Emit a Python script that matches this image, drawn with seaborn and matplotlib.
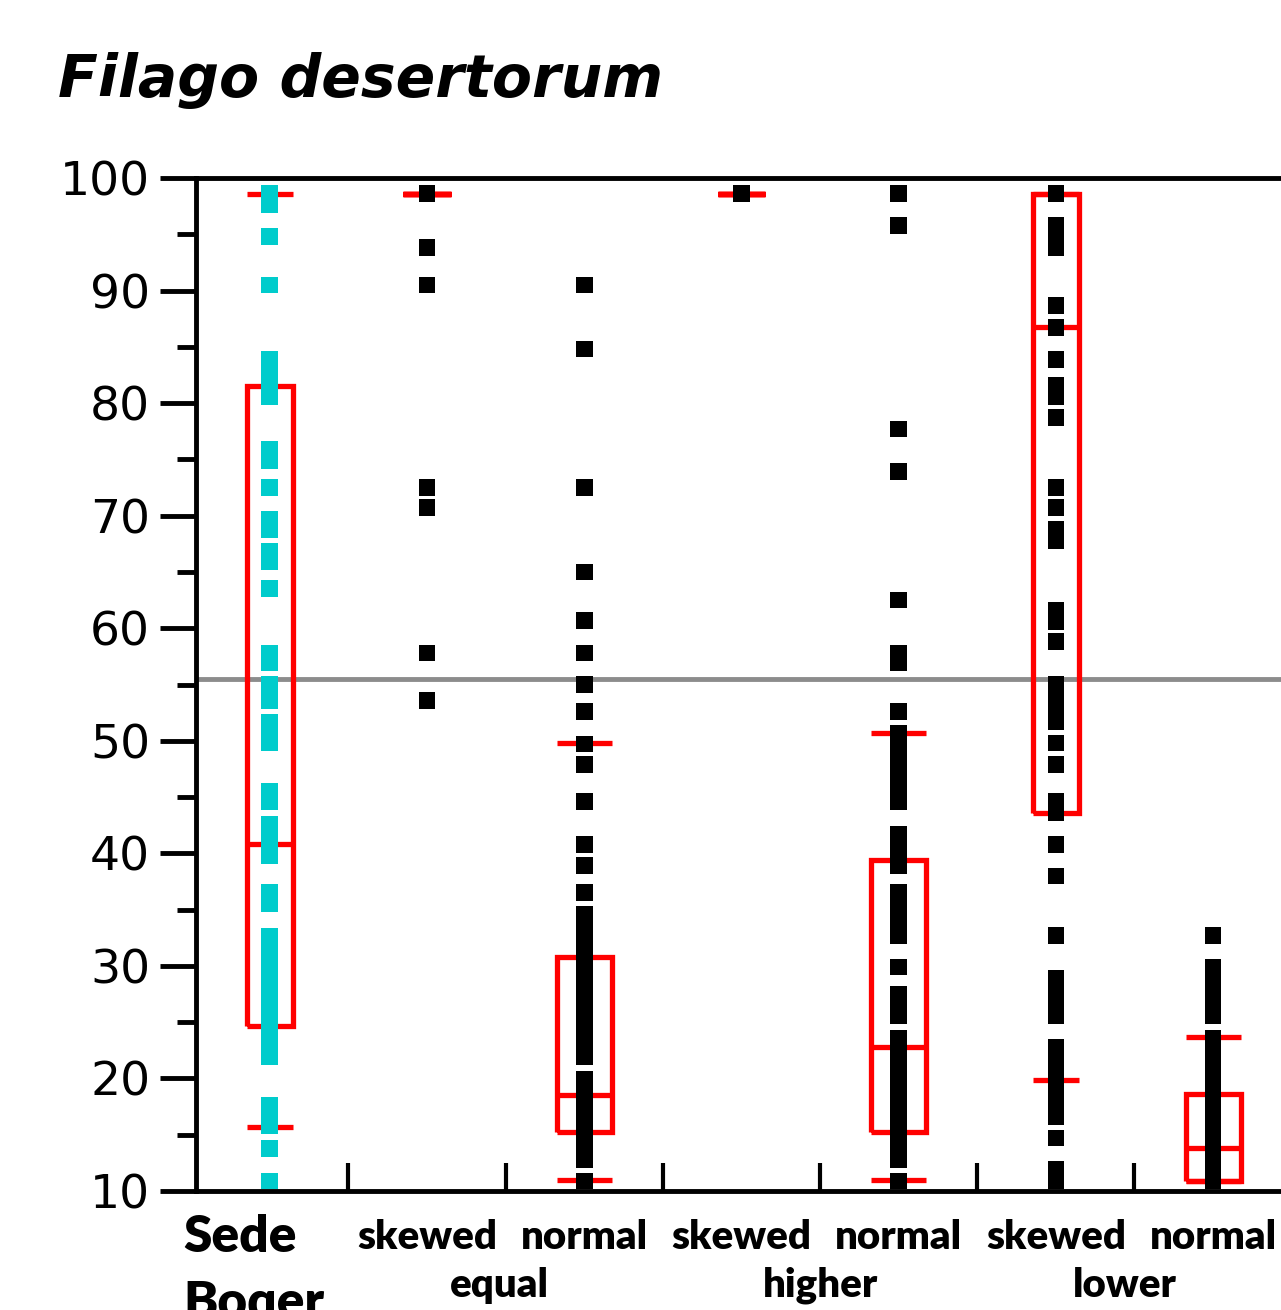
import numpy as np
import pandas as pd
import matplotlib
matplotlib.use("Agg")
import matplotlib.pyplot as plt
import matplotlib.transforms as mtransforms
import seaborn as sns

# ---------------- data ----------------
categories = ["Sede Boqer", "skewed equal", "normal equal", "skewed higher",
              "normal higher", "skewed lower", "normal lower"]
row1_labels = ["Sede", "skewed", "normal", "skewed", "normal", "skewed", "normal"]
group_labels = ["equal", "higher", "lower"]
title_text = "Filago desertorum"

sede_boqer = [98.6, 98.1, 97.6, 94.8, 90.5, 83.9, 83.2, 82.4, 81.6, 80.6, 75.9, 75.4,
              74.9, 72.5, 69.7, 69.2, 68.8, 66.8, 66.3, 65.9, 63.5, 57.8, 57.3, 56.9,
              55.0, 54.3, 53.6, 51.6, 50.9, 50.3, 49.8, 45.5, 45.0, 44.6, 42.6, 41.9,
              41.2, 40.5, 39.8, 36.5, 36.0, 35.5, 32.6, 31.9, 31.2, 30.5, 29.8, 29.1,
              28.4, 27.7, 27.0, 26.3, 25.6, 24.9, 24.2, 23.5, 22.8, 21.9, 17.6, 17.0,
              16.4, 15.8, 13.8, 10.9]
skewed_equal = [98.6, 98.6, 98.6, 98.6, 98.6, 98.6, 93.8, 90.5, 72.5, 70.7, 57.8, 53.6]
normal_equal = [90.5, 84.8, 72.5, 65.0, 60.7, 57.8, 55.0, 52.6, 49.7, 47.9, 44.6, 40.8,
                38.9, 36.5, 34.6, 33.9, 33.2, 32.5, 31.8, 31.1, 30.4, 29.7, 29.0, 28.3,
                27.6, 26.9, 26.2, 25.5, 24.8, 24.1, 23.4, 22.7, 21.9, 19.9, 19.2, 18.5,
                17.8, 17.1, 16.4, 15.7, 15.0, 14.3, 13.6, 12.8, 10.9]
skewed_higher = [98.6, 98.6, 98.6, 98.6, 98.6]
normal_higher = [98.6, 95.8, 77.7, 73.9, 62.5, 57.8, 56.9, 52.6, 50.7, 50.0, 49.3, 48.6,
                 47.9, 47.2, 46.5, 45.8, 45.2, 44.6, 41.7, 41.0, 40.3, 39.6, 38.9, 36.5,
                 35.8, 35.1, 34.4, 33.7, 33.0, 32.7, 29.9, 27.5, 26.9, 26.2, 25.6, 23.6,
                 22.9, 22.2, 21.5, 20.8, 20.1, 19.4, 18.7, 18.0, 17.3, 16.6, 15.9, 15.2,
                 14.5, 13.8, 13.1, 12.8, 10.9]
skewed_lower = [98.6, 95.8, 95.1, 94.4, 93.8, 88.7, 86.7, 83.9, 81.6, 81.1, 80.6, 78.7,
                72.5, 70.7, 68.8, 68.3, 67.8, 61.6, 61.1, 60.6, 58.8, 55.0, 54.3, 53.6,
                52.9, 52.3, 51.7, 49.8, 47.9, 44.6, 44.1, 43.6, 40.8, 38.0, 32.7, 28.9,
                28.2, 27.5, 26.8, 26.2, 25.6, 22.8, 22.1, 21.4, 20.7, 20.0, 19.3, 18.6,
                17.9, 17.2, 16.6, 14.7, 11.9, 11.4, 10.9]
normal_lower = [32.7, 29.9, 29.2, 28.5, 27.8, 27.1, 26.4, 25.6, 23.6, 22.9, 22.2, 21.5,
                20.8, 20.1, 19.4, 18.7, 18.0, 17.3, 16.6, 15.9, 15.2, 14.5, 13.8, 13.1,
                12.4, 11.7, 10.9]

# box statistics (10th, 25th, 50th, 75th, 90th percentiles)
p10 = [15.7, 98.6, 11.0, 98.6, 11.0, 19.9, 10.9]
q1 = [24.7, 98.6, 15.2, 98.6, 15.2, 43.6, 10.9]
median = [40.8, 98.6, 18.5, 98.6, 22.8, 86.8, 13.8]
q3 = [81.5, 98.6, 30.8, 98.6, 39.4, 98.6, 18.6]
p90 = [98.6, 98.6, 49.8, 98.6, 50.7, 98.6, 23.7]

reference_line = 55.5
y_major = [10, 20, 30, 40, 50, 60, 70, 80, 90, 100]
y_minor = [15, 25, 35, 45, 55, 65, 75, 85, 95]

# ---------------- build table ----------------
series = [sede_boqer, skewed_equal, normal_equal, skewed_higher,
          normal_higher, skewed_lower, normal_lower]
df = pd.DataFrame({
    "category": np.concatenate([[c] * len(s) for c, s in zip(categories, series)]),
    "value": np.concatenate(series),
})

# ---------------- style ----------------
sns.set_theme(style="white")
plt.rcParams["font.family"] = ["DejaVu Sans"]
plt.rcParams["text.color"] = "black"
plt.rcParams["axes.labelcolor"] = "black"
plt.rcParams["xtick.color"] = "black"
plt.rcParams["ytick.color"] = "black"

W, H = 1281, 1310
fig = plt.figure(figsize=(W / 100, H / 100), dpi=100)
ax = fig.add_axes([196 / W, (H - 1191) / H, (W - 196) / W, (1191 - 178) / H])

palette = {c: ("#00CCCC" if i == 0 else "black") for i, c in enumerate(categories)}

ax.axhline(reference_line, color="#8c8c8c", lw=3.5, zorder=1)

stats = [dict(whislo=p10[i], q1=q1[i], med=median[i], q3=q3[i], whishi=p90[i], fliers=[])
         for i in range(len(categories))]
widths = [0.29, 0.30, 0.35, 0.30, 0.35, 0.29, 0.35]
lp = dict(color="red", linewidth=3.8, solid_joinstyle="miter", solid_capstyle="butt")
ax.bxp(stats, positions=range(len(categories)), widths=widths, capwidths=widths,
       showfliers=False, boxprops=lp, medianprops=lp, capprops=lp,
       whiskerprops=dict(linewidth=0), manage_ticks=False, zorder=2)

sns.stripplot(data=df, x="category", y="value", hue="category", order=categories,
              palette=palette, jitter=False, marker="s", size=12, linewidth=0,
              legend=False, ax=ax, zorder=4)

ax.set_xlim(-0.469, 6.432)
ax.set_ylim(10, 100)
ax.set_xlabel("")
ax.set_ylabel("")

for side in ["left", "bottom", "top"]:
    ax.spines[side].set_visible(True)
    ax.spines[side].set_color("black")
    ax.spines[side].set_linewidth(3.5)
ax.spines["right"].set_visible(False)

ax.set_yticks(y_major)
ax.set_yticks(y_minor, minor=True)
ax.set_yticklabels([str(v) for v in y_major])
ax.tick_params(axis="y", which="major", direction="out", length=26, width=3.5,
               labelsize=34, pad=7, left=True, colors="black")
ax.tick_params(axis="y", which="minor", direction="out", length=14, width=3.5, left=True,
               colors="black")

ax.set_xticks([0.5, 1.5, 2.5, 3.5, 4.5, 5.5])
ax.set_xticklabels([])
ax.tick_params(axis="x", which="major", direction="in", length=20, width=3,
               bottom=True, top=False, labelbottom=False, colors="black")

trans = mtransforms.blended_transform_factory(ax.transData, fig.transFigure)
lab_font = dict(family="Lato", fontweight="heavy", color="black")
for i, lab in enumerate(row1_labels):
    if i == 0:
        ax.text(-0.552, 1 - 1252 / H, lab, fontsize=37, ha="left", va="baseline",
                transform=trans, **lab_font)
        ax.text(-0.552, 1 - 1318 / H, "Boqer", fontsize=37, ha="left", va="baseline",
                transform=trans, clip_on=False, **lab_font)
    else:
        ax.text(i, 1 - 1249 / H, lab, fontsize=29, ha="center", va="baseline",
                transform=trans, **lab_font)
for xpos, lab in zip([1.46, 3.5, 5.44], group_labels):
    ax.text(xpos, 1 - 1297 / H, lab, fontsize=29, ha="center", va="baseline",
            transform=trans, **lab_font)

fig.text(58 / W, 1 - 97 / H, title_text, fontsize=42, fontweight="bold",
         fontstyle="italic", ha="left", va="baseline", color="black")

fig.savefig("out.png", dpi=100)
